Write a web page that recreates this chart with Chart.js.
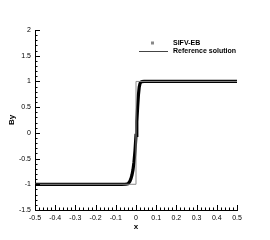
<!DOCTYPE html>
<html lang="en">
<head>
<meta charset="UTF-8">
<title>By profile</title>
<script src="https://cdn.jsdelivr.net/npm/chart.js@4.4.0/dist/chart.umd.min.js"></script>
<style>
body{margin:0;background:#fff}
#wrap{width:270px;height:240px}
</style>
</head>
<body>
<div id="wrap"><canvas id="c" width="270" height="240"></canvas></div>
<script>
/* ---------- data ---------- */
const numX = [-0.5,-0.45,-0.4,-0.35,-0.3,-0.25,-0.2,-0.15,-0.1,-0.07,
  -0.05,-0.04,-0.035,-0.03,-0.025,-0.02,-0.015,-0.01,-0.005,0,
  0.004,0.008,0.012,0.016,0.02,0.025,0.03,0.04,0.05,0.1,
  0.15,0.2,0.25,0.3,0.35,0.4,0.45,0.5];
const numY = [-1,-1,-1,-1,-1,-1,-1,-1,-1,-1,
  -0.998,-0.99,-0.97,-0.94,-0.89,-0.82,-0.72,-0.57,-0.35,-0.05,
  0.22,0.5,0.74,0.89,0.96,0.99,0.998,1,1,1,
  1,1,1,1,1,1,1,1];
const refX = [-0.5,0,0,0.5];
const refY = [-1,-1,1,1];
const xTicks = [-0.5,-0.4,-0.3,-0.2,-0.1,0,0.1,0.2,0.3,0.4,0.5];
const yTicks = [-1.5,-1,-0.5,0,0.5,1,1.5,2];
const seriesNames = ['SIFV-EB','Reference solution'];

const FONT = "'Liberation Sans', Arial, sans-serif";

/* ---------- inward ticks + legend ---------- */
const decor = {
  id:'decor',
  afterDraw(chart){
    const {ctx, chartArea:a, scales:{x,y}} = chart;
    ctx.save();
    ctx.strokeStyle='#000'; ctx.lineWidth=1;
    ctx.beginPath();
    // x axis: major every 0.1, minor every 0.02
    for(let i=0;i<=50;i++){
      const v=-0.5+i*0.02, px=Math.round(x.getPixelForValue(v))+0.5;
      const len = i%5===0 ? 5 : 2.5;
      ctx.moveTo(px,a.bottom); ctx.lineTo(px,a.bottom-len);
    }
    // y axis: major every 0.5, minor every 0.1
    for(let i=0;i<=35;i++){
      const v=-1.5+i*0.1, py=Math.round(y.getPixelForValue(v))+0.5;
      const len = i%5===0 ? 5 : 2.5;
      ctx.moveTo(a.left,py); ctx.lineTo(a.left+len,py);
    }
    ctx.stroke();

    // legend
    const lx=a.left+138, ly=a.top+13;
    ctx.font='bold 7px '+FONT; ctx.fillStyle='#000'; ctx.textBaseline='middle';
    ctx.fillStyle='#888'; ctx.fillRect(lx-22,ly-1.5,3,3);
    ctx.fillStyle='#000'; ctx.fillText(seriesNames[0],lx,ly);
    ctx.strokeStyle='#444'; ctx.beginPath();
    ctx.moveTo(lx-34,ly+8.5); ctx.lineTo(lx-5,ly+8.5); ctx.stroke();
    ctx.fillText(seriesNames[1],lx,ly+8);
    ctx.restore();
  }
};

new Chart(document.getElementById('c'),{
  type:'scatter',
  data:{datasets:[
    {label:seriesNames[1],data:refX.map((v,i)=>({x:v,y:refY[i]})),showLine:true,
     borderColor:'#8a8a8a',borderWidth:1,pointRadius:0,order:1},
    {label:seriesNames[0],data:numX.map((v,i)=>({x:v,y:numY[i]})),showLine:true,
     borderColor:'#000',borderWidth:3.2,pointRadius:0,order:2}
  ]},
  options:{
    responsive:false,animation:false,
    layout:{padding:{left:0,top:30,right:33,bottom:0}},
    plugins:{legend:{display:false},tooltip:{enabled:false}},
    scales:{
      x:{type:'linear',min:-0.5,max:0.5,
        afterBuildTicks:s=>{s.ticks=xTicks.map(v=>({value:v}));},
        afterFit:s=>{s.height=30;},
        grid:{display:false,drawTicks:false},border:{display:true,color:'#000',width:1},
        ticks:{padding:4,maxRotation:0,autoSkip:false,color:'#000',font:{family:FONT,size:7},
          callback:v=>String(Math.round(v*10)/10)},
        title:{display:true,text:'x',color:'#000',font:{family:FONT,size:8,weight:'bold'},padding:{top:0,bottom:8}}},
      y:{type:'linear',min:-1.5,max:2,
        afterBuildTicks:s=>{s.ticks=yTicks.map(v=>({value:v}));},
        afterFit:s=>{s.width=35;},
        grid:{display:false,drawTicks:false},border:{display:true,color:'#000',width:1},
        ticks:{padding:4,autoSkip:false,color:'#000',font:{family:FONT,size:7},
          callback:v=>String(v)},
        title:{display:true,text:'By',color:'#000',font:{family:FONT,size:8,weight:'bold'},padding:{top:7,bottom:0}}}
    }
  },
  plugins:[decor]
});
</script>
</body>
</html>
